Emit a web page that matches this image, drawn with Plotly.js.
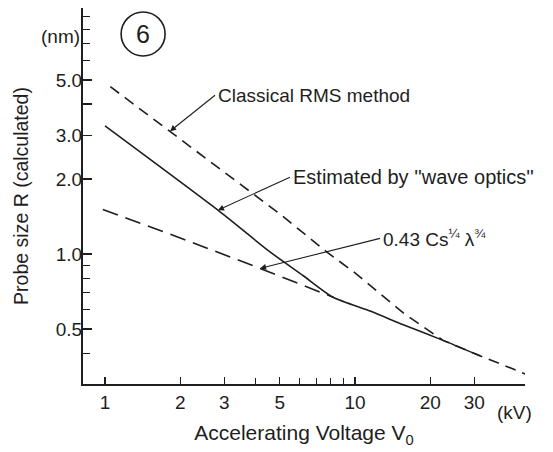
<!DOCTYPE html>
<html>
<head>
<meta charset="utf-8">
<script src="https://cdn.plot.ly/plotly-3.0.1.min.js"></script>
<style>html,body{margin:0;padding:0;background:#fff;}#chart{width:553px;height:452px;}</style>
</head>
<body>
<div id="chart"></div>
<script>
// Accelerating voltage (kV) and probe size R (nm)
const classicalV = [1.05, 2, 5, 7.7, 10, 15.6, 22.5, 32.5, 48];
const classicalR = [4.7, 2.9, 1.45, 1.02, 0.84, 0.58, 0.45, 0.386, 0.33];

const waveV = [1.0, 2.83, 4.57, 6.19, 8.17, 11.5, 15.6, 22.5, 31.6];
const waveR = [3.27, 1.50, 1.02, 0.82, 0.67, 0.59, 0.52, 0.45, 0.39];

const formulaV = [0.98, 2, 4, 8.2];
const formulaR = [1.51, 1.16, 0.89, 0.67];

const xTickVals = [1, 2, 3, 5, 10, 20, 30];
const xTickText = ['1', '2', '3', '5', '10', '20', '30'];
const xMinorVals = [4, 6, 7, 8, 9];
const yTickVals = [0.5, 1, 2, 3, 4, 5];
const yTickText = ['0.5', '1.0', '2.0', '3.0', '', '5.0'];
const yMinorVals = [0.4, 0.6, 0.7, 0.8, 0.9, 6, 7, 8, 9];

const labels = {
  classical: 'Classical RMS method',
  wave: "Estimated by ''wave optics''",
  formula: '0.43 Cs<sup>¼</sup> λ<sup>¾</sup>'
};

// log-log interpolation on a series, returns log10 of R at V
function logInterp(vs, rs, v) {
  const lv = Math.log10(v);
  for (let i = 0; i < vs.length - 1; i++) {
    const a = Math.log10(vs[i]), b = Math.log10(vs[i + 1]);
    if (lv >= a && lv <= b) {
      const t = (lv - a) / (b - a);
      return Math.log10(rs[i]) + t * (Math.log10(rs[i + 1]) - Math.log10(rs[i]));
    }
  }
  return Math.log10(rs[rs.length - 1]);
}

const ink = '#1e1e1e';
const fam = 'Liberation Sans, Arial, sans-serif';
const font = {family: fam, size: 19, color: ink};

const traces = [
  {x: classicalV, y: classicalR, mode: 'lines', line: {color: ink, width: 1.6, dash: '11px,7px'}, hoverinfo: 'skip'},
  {x: waveV, y: waveR, mode: 'lines', line: {color: ink, width: 1.6, shape: 'spline', smoothing: 0.6}, hoverinfo: 'skip'},
  {x: formulaV, y: formulaR, mode: 'lines', line: {color: ink, width: 1.6, dash: '16px,8px'}, hoverinfo: 'skip'}
];

function arrowNote(text, vs, rs, v, ax, ay, size) {
  return {
    x: Math.log10(v), y: logInterp(vs, rs, v), xref: 'x', yref: 'y',
    text: text, showarrow: true, ax: ax, ay: ay, xanchor: 'left', yanchor: 'middle',
    arrowhead: 2, arrowsize: 1.1, arrowwidth: 1.1, arrowcolor: ink,
    font: {family: fam, size: size || 19, color: ink}, borderpad: 2
  };
}

const layout = {
  width: 553, height: 452,
  margin: {l: 83, r: 28, t: 8, b: 68},
  paper_bgcolor: '#ffffff', plot_bgcolor: '#ffffff',
  showlegend: false,
  font: font,
  xaxis: {
    type: 'log', range: [-0.088, 1.68],
    showgrid: false, zeroline: false,
    showline: true, linecolor: ink, linewidth: 2,
    ticks: 'inside', ticklen: 7, tickwidth: 1.4, tickcolor: ink,
    tickmode: 'array', tickvals: xTickVals, ticktext: xTickText,
    ticklabelstandoff: 0,
    minor: {tickmode: 'array', tickvals: xMinorVals, ticks: 'inside', ticklen: 6, tickwidth: 1.2, tickcolor: ink},
    title: {text: 'Accelerating Voltage V<sub>0</sub>', font: {family: fam, size: 21, color: ink}, standoff: 14}
  },
  yaxis: {
    type: 'log', range: [-0.522, 0.988],
    showgrid: false, zeroline: false,
    showline: true, linecolor: ink, linewidth: 2,
    ticks: 'inside', ticklen: 9, tickwidth: 1.4, tickcolor: ink,
    tickmode: 'array', tickvals: yTickVals, ticktext: yTickText,
    ticklabelstandoff: -5,
    minor: {tickmode: 'array', tickvals: yMinorVals, ticks: 'inside', ticklen: 7, tickwidth: 1.2, tickcolor: ink},
    title: {text: 'Probe size R (calculated)', font: {family: fam, size: 19.5, color: ink}, standoff: 22}
  },
  shapes: [
    {type: 'circle', xref: 'paper', yref: 'paper', xsizemode: 'pixel', ysizemode: 'pixel',
     xanchor: 0.136, yanchor: 0.931, x0: -22, x1: 22, y0: -22, y1: 22,
     line: {color: ink, width: 1.6}}
  ],
  annotations: [
    {x: 0.136, y: 0.931, xref: 'paper', yref: 'paper', xanchor: 'center', yanchor: 'middle', text: '6', showarrow: false,
     font: {family: 'Liberation Sans Narrow, Liberation Sans, Arial', size: 25, color: ink}},
    {x: -0.05, y: 0.923, xref: 'paper', yref: 'paper', xanchor: 'center', yanchor: 'middle', text: '(nm)', showarrow: false, font: font},
    {x: 0.977, y: -0.077, xref: 'paper', yref: 'paper', xanchor: 'center', yanchor: 'middle', text: '(kV)', showarrow: false, font: font},
    arrowNote(labels.classical, classicalV, classicalR, 1.82, 45, -36),
    arrowNote(labels.wave, waveV, waveR, 2.83, 72, -33, 20),
    arrowNote(labels.formula, formulaV, formulaR, 4.17, 120, -30)
  ]
};

Plotly.newPlot('chart', traces, layout, {displayModeBar: false, staticPlot: true});
</script>
</body>
</html>
